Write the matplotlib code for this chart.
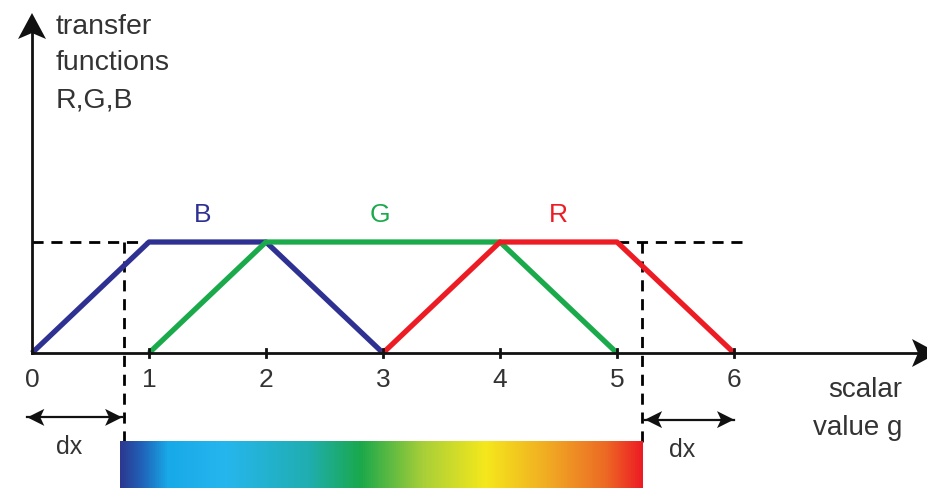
import numpy as np
import matplotlib
matplotlib.use("Agg")
import matplotlib.pyplot as plt
from matplotlib.colors import LinearSegmentedColormap
from matplotlib.patches import Polygon

plt.rcParams['font.family'] = ['Liberation Sans', 'DejaVu Sans']

# transfer functions (scalar value g -> intensity)
b_x = [0, 1, 2, 3]
b_y = [0, 1, 1, 0]
g_x = [1, 2, 4, 5]
g_y = [0, 1, 1, 0]
r_x = [3, 4, 5, 6]
r_y = [0, 1, 1, 0]
tick_vals = [0, 1, 2, 3, 4, 5, 6]
dx = 0.79

# colour bar stops (fraction, colour)
bar_pos = [0.0, 0.04, 0.09, 0.2, 0.36, 0.46, 0.58, 0.7, 0.83, 0.93, 1.0]
bar_cols = ['#2B3990', '#2161B8', '#17A9E8', '#26B6EE', '#20AEB0', '#1AA84B',
            '#A8CF38', '#F5E81C', '#F0A523', '#EC6A25', '#ED1C24']

BLUE = '#2E3192'
GREEN = '#1AAA4B'
RED = '#ED1C24'
TXT = '#333333'

PX = 117.0   # pixels per unit g
PY = 111.0   # pixels per unit intensity

fig = plt.figure(figsize=(9.27, 4.88), dpi=100)
ax = fig.add_axes([0, 0, 1, 1])
ax.set_xlim(-32 / PX, (927 - 32) / PX)
ax.set_ylim(-135 / PY, 353 / PY)
ax.axis('off')


def stealth(x, y, ux, uy, length, width, notch):
    # arrow head with tip at (x, y) pointing along (ux, uy); sizes in pixels
    px, py = -uy, ux
    pts = [(0, 0),
           (-ux * length + px * width / 2, -uy * length + py * width / 2),
           (-ux * (length - notch), -uy * (length - notch)),
           (-ux * length - px * width / 2, -uy * length - py * width / 2)]
    pts = [(x + a / PX, y + b / PY) for a, b in pts]
    ax.add_patch(Polygon(pts, closed=True, color='#111111', lw=0, zorder=4))


# dashed guide lines
dash = (0, (4, 2.8))
ax.plot([0, 6.09], [1, 1], color='k', lw=2, linestyle=dash, zorder=1)
ax.plot([dx, dx], [1, -0.8], color='k', lw=2, linestyle=dash, zorder=1)
ax.plot([6 - dx, 6 - dx], [1, -0.8], color='k', lw=2, linestyle=dash, zorder=1)

# axes with arrows
ax.plot([0, 0], [0, 3.0], color='#111111', lw=2, zorder=3)
stealth(0, (353 - 13) / PY, 0, 1, 26, 28, 6)
ax.plot([0, 7.7], [0, 0], color='#111111', lw=2, zorder=3)
stealth((938 - 32) / PX, 0, 1, 0, 26, 28, 6)

# ticks
for t in tick_vals:
    if t > 0:
        ax.plot([t, t], [-0.04, 0.04], color='#111111', lw=2, zorder=3)
    ax.text(t, -0.245, str(t), ha='center', va='center', fontsize=19, color=TXT)

# curves
ax.plot(b_x, b_y, color=BLUE, lw=3.8, zorder=2, solid_capstyle='butt')
ax.plot(g_x, g_y, color=GREEN, lw=3.8, zorder=2, solid_capstyle='butt')
ax.plot(r_x, r_y, color=RED, lw=3.8, zorder=2, solid_capstyle='butt')
ax.text(1.46, 1.24, 'B', color=BLUE, fontsize=19, ha='center', va='center')
ax.text(2.97, 1.24, 'G', color=GREEN, fontsize=19, ha='center', va='center')
ax.text(4.50, 1.24, 'R', color=RED, fontsize=19, ha='center', va='center')

# axis titles
ax.text(0.2, 2.87, 'transfer', fontsize=20.5, color=TXT, va='baseline')
ax.text(0.2, 2.55, 'functions', fontsize=20.5, color=TXT, va='baseline')
ax.text(0.2, 2.216, 'R,G,B', fontsize=20.5, color=TXT, va='baseline')
ax.text(7.44, -0.33, 'scalar', fontsize=20, color=TXT, ha='right', va='center')
ax.text(7.44, -0.68, 'value g', fontsize=20, color=TXT, ha='right', va='center')

# dx arrows
ya = -0.58
ax.plot([-0.04, dx - 0.02], [ya, ya], color='#111111', lw=1.6)
stealth(-0.04, ya, -1, 0, 17, 17, 4)
stealth(dx - 0.02, ya, 1, 0, 17, 17, 4)
yb = -0.6
ax.plot([6 - dx + 0.03, 6.0], [yb, yb], color='#111111', lw=1.6)
stealth(6 - dx + 0.03, yb, -1, 0, 17, 17, 4)
stealth(6.0, yb, 1, 0, 17, 17, 4)
ax.text(0.32, -0.85, 'dx', fontsize=18, color=TXT, ha='center', va='center')
ax.text(5.56, -0.87, 'dx', fontsize=18, color=TXT, ha='center', va='center')

# colour bar
cmap = LinearSegmentedColormap.from_list('bar', list(zip(bar_pos, bar_cols)))
grad = np.linspace(0, 1, 512).reshape(1, -1)
ax.imshow(grad, cmap=cmap, aspect='auto', extent=(0.755, 5.22, -135 / PY, -0.8),
          zorder=2)

fig.savefig('out.png', dpi=100)
